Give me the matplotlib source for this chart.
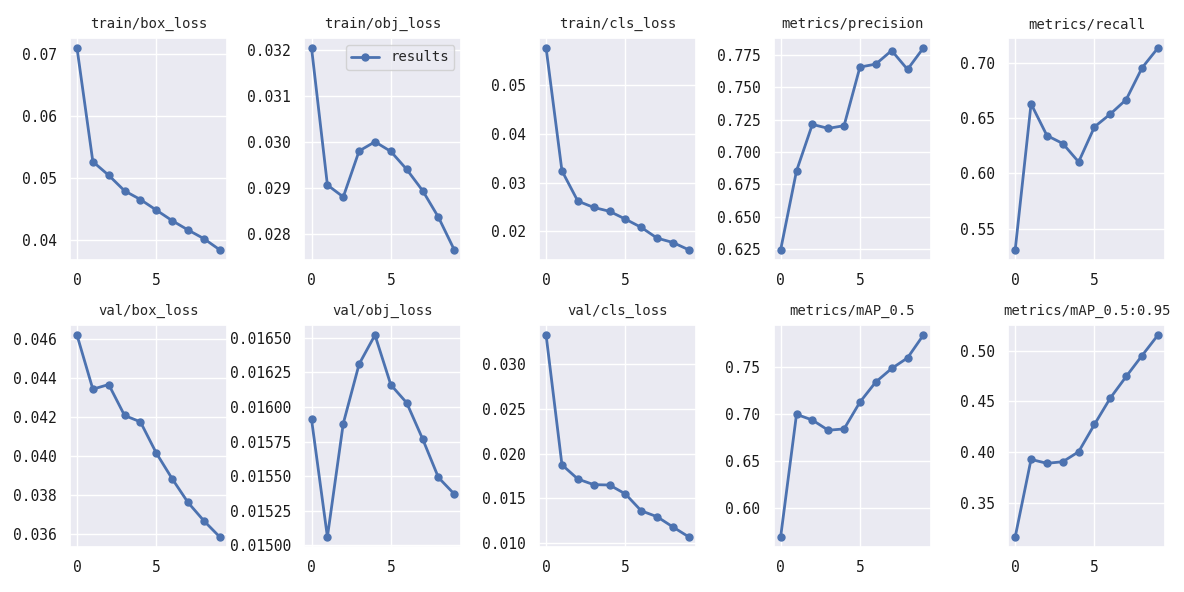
import numpy as np
import matplotlib
matplotlib.use("Agg")
import matplotlib.pyplot as plt
import seaborn as sns
from matplotlib.ticker import MultipleLocator, ScalarFormatter

# yolov5-style results grid, 10 epochs
epochs = np.arange(10)

titles = ["train/box_loss", "train/obj_loss", "train/cls_loss",
          "metrics/precision", "metrics/recall",
          "val/box_loss", "val/obj_loss", "val/cls_loss",
          "metrics/mAP_0.5", "metrics/mAP_0.5:0.95"]

train_box = [0.0709, 0.0526, 0.0504, 0.0479, 0.0465, 0.0448, 0.0431, 0.0416, 0.0402, 0.0384]
train_obj = [0.03205, 0.02907, 0.02881, 0.02981, 0.03001, 0.02980, 0.02941, 0.02895, 0.02837, 0.02766]
train_cls = [0.0576, 0.0324, 0.0262, 0.0249, 0.0241, 0.0225, 0.0208, 0.0186, 0.0177, 0.0162]
precision = [0.6242, 0.6853, 0.7214, 0.7183, 0.7204, 0.7658, 0.7681, 0.7786, 0.7640, 0.7806]
recall = [0.5312, 0.6628, 0.6342, 0.6270, 0.6104, 0.6420, 0.6536, 0.6666, 0.6952, 0.7131]
val_box = [0.0462, 0.04342, 0.04366, 0.04207, 0.04174, 0.04014, 0.03882, 0.0376, 0.03666, 0.03583]
val_obj = [0.01591, 0.01506, 0.01588, 0.01631, 0.01652, 0.01616, 0.01603, 0.01577, 0.01549, 0.01537]
val_cls = [0.03326, 0.01874, 0.01715, 0.01652, 0.01648, 0.01548, 0.01359, 0.01293, 0.01178, 0.01067]
map50 = [0.5695, 0.6993, 0.6933, 0.6825, 0.6839, 0.7123, 0.7336, 0.7479, 0.7591, 0.7833]
map50_95 = [0.3164, 0.3928, 0.3889, 0.3905, 0.4003, 0.4273, 0.4533, 0.4745, 0.4951, 0.5153]

series = [train_box, train_obj, train_cls, precision, recall,
          val_box, val_obj, val_cls, map50, map50_95]

sns.set_theme(style="darkgrid")
plt.rcParams['font.family'] = ['DejaVu Sans Mono', 'Noto Sans CJK SC']

fig, axes = plt.subplots(2, 5, figsize=(11.84, 5.92), dpi=100)
fig.subplots_adjust(left=0.059, right=0.984, top=0.936, bottom=0.076,
                    wspace=0.494, hspace=0.293)

for i, ax in enumerate(axes.ravel()):
    ax.plot(epochs, series[i], marker='o', color='#4c72b0', linewidth=2,
            markersize=5, label='results')
    ax.set_title(titles[i], fontsize=10, pad=7)
    ax.xaxis.set_major_locator(MultipleLocator(5))
    fmt = ScalarFormatter(useOffset=False)
    ax.yaxis.set_major_formatter(fmt)
    ax.tick_params(labelsize=10.5, colors='#1a1a1a')
    if i == 1:
        ax.legend(fontsize=10, loc='upper right')

fig.savefig("out.png", dpi=100)
